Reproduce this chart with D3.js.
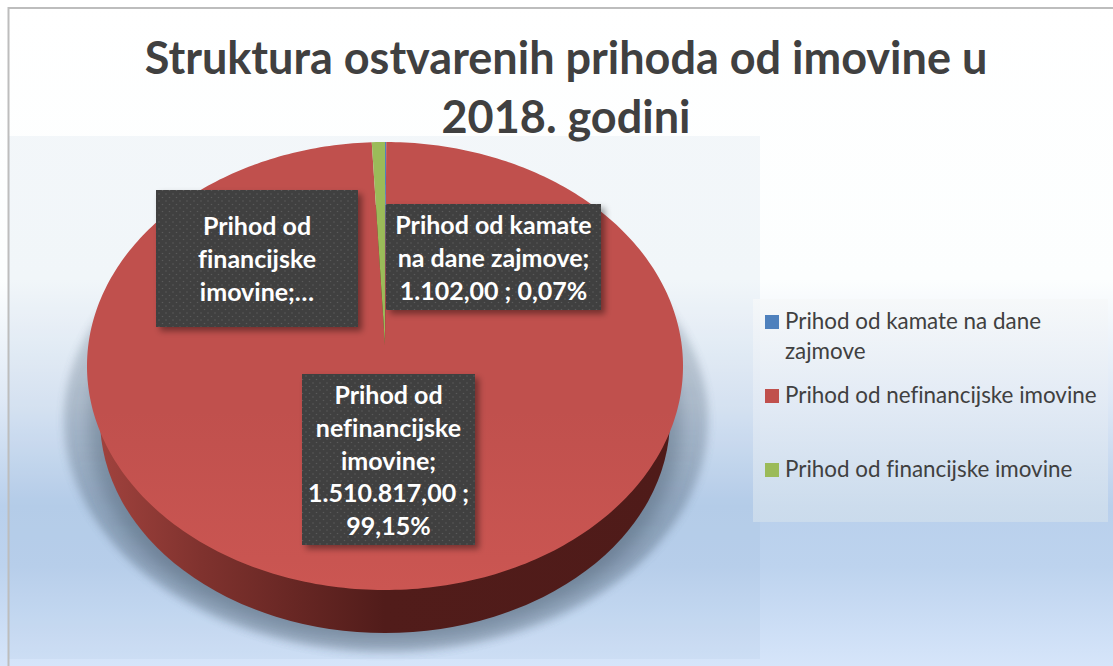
<!DOCTYPE html>
<html>
<head>
<meta charset="utf-8">
<script src="https://cdn.jsdelivr.net/npm/d3@7"></script>
<style>
html,body{margin:0;padding:0;background:#fff;overflow:hidden}
svg{display:block;font-family:Lato,"Noto Sans",sans-serif;font-variant-ligatures:none}
</style>
</head>
<body>
<svg id="chart" width="1113" height="666"></svg>
<script>
const titleLines = ['Struktura ostvarenih prihoda od imovine u', '2018. godini'];
const categories = ['Prihod od kamate na dane zajmove', 'Prihod od nefinancijske imovine', 'Prihod od financijske imovine'];
const values = [1102, 1510817, 11850]; // last one is hidden in the picture
const legendLines = [['Prihod od kamate na dane', 'zajmove'], ['Prihod od nefinancijske imovine'], ['Prihod od financijske imovine']];
const labelLines = [
  ['Prihod od kamate', 'na dane zajmove;', '1.102,00 ; 0,07%'],
  ['Prihod od', 'nefinancijske', 'imovine;', '1.510.817,00 ;', '99,15%'],
  ['Prihod od', 'financijske', 'imovine;…'],
];
const colors = ['#4f81bd', '#c0504d', '#9bbb59'];

const svg = d3.select('#chart');
const defs = svg.append('defs');
const color = d3.scaleOrdinal(categories, colors);

function linGrad(id, stops, horizontal) {
  const g = defs.append('linearGradient').attr('id', id).attr('x1', 0).attr('y1', 0)
    .attr('x2', horizontal ? 1 : 0).attr('y2', horizontal ? 0 : 1);
  stops.forEach(([o, c, a]) => g.append('stop').attr('offset', o).attr('stop-color', c).attr('stop-opacity', a ?? 1));
}
linGrad('bg', [[0, '#ffffff'], [0.42, '#fcfefe'], [0.6, '#dfe9f6'], [0.76, '#b9d0ec'], [0.85, '#bdd3ee'], [1, '#d6e5fa']]);
linGrad('legendBg', [[0, '#f6f8f9'], [0.5, '#e2eaf4'], [1, '#cfdeec']]);
linGrad('face', [[0, '#c0504d'], [0.6, '#c0504d'], [1, '#cb5652']]);
linGrad('wall', [[0, '#a0423d'], [0.18, '#7f322e'], [0.5, '#511c1a'], [1, '#4f1b19']], true);
linGrad('shadowFade', [[0, '#56697c', 0], [0.3, '#56697c', 0.34], [0.8, '#56697c', 0.55], [1, '#56697c', 0.45]]);

const blur = (id, sd) => defs.append('filter').attr('id', id).attr('x', '-10%').attr('y', '-10%').attr('width', '120%').attr('height', '120%')
  .append('feGaussianBlur').attr('stdDeviation', sd);
blur('blurWide', 4);
blur('blurNear', 8);
const ds = defs.append('filter').attr('id', 'boxShadow').attr('x', '-10%').attr('y', '-10%').attr('width', '125%').attr('height', '125%');
ds.append('feDropShadow').attr('dx', 4).attr('dy', 4).attr('stdDeviation', 3).attr('flood-color', '#000').attr('flood-opacity', 0.4);

const dots = defs.append('pattern').attr('id', 'dots').attr('width', 7).attr('height', 7).attr('patternUnits', 'userSpaceOnUse');
dots.append('rect').attr('width', 7).attr('height', 7).attr('fill', '#3f3f3f');
dots.append('circle').attr('cx', 1.5).attr('cy', 1.5).attr('r', 0.8).attr('fill', '#5a5a5a');
dots.append('circle').attr('cx', 5).attr('cy', 5).attr('r', 0.8).attr('fill', '#5a5a5a');

// chart area
svg.append('rect').attr('width', 1113).attr('height', 666).attr('fill', 'url(#bg)');
svg.append('path').attr('d', 'M8.5,666V8H1113').attr('fill', 'none').attr('stroke', '#bdbdbd').attr('stroke-width', 2);

// plot area
svg.append('rect').attr('x', 9).attr('y', 136).attr('width', 751).attr('height', 523).attr('fill', '#7fa5c8').attr('opacity', 0.085);

// disc in perspective: top 142, apex 345, bottom 590
const cx = 385, apexY = 345, topY = 142, botY = 590, halfW = 296.7;
const k = (2 * apexY - topY - botY) / (botY - topY);
const p = apexY - topY + topY * k;
const project = (angle, r) => {
  const u = r * Math.sin(angle), v = -r * Math.cos(angle);
  const w = 1 + k * v;
  return [cx + halfW * u / w, (apexY + p * v) / w];
};

// shadow under the pie
svg.append('ellipse').attr('cx', cx + 1).attr('cy', 420).attr('rx', 322).attr('ry', 232)
  .attr('fill', 'url(#shadowFade)').attr('opacity', 0.8).attr('filter', 'url(#blurWide)');
svg.append('ellipse').attr('cx', cx).attr('cy', 425).attr('rx', 296).attr('ry', 218)
  .attr('fill', 'url(#shadowFade)').attr('filter', 'url(#blurNear)');

// side wall, the lower rim is a slightly smaller ellipse further down
svg.append('ellipse').attr('cx', cx).attr('cy', 419).attr('rx', 285).attr('ry', 214)
  .attr('fill', 'url(#wall)');

// slices
const slices = d3.pie().sort(null)(values);
const line = d3.line();
svg.append('g').selectAll('path').data(slices).join('path')
  .attr('d', (s) => {
    const n = Math.max(2, Math.ceil((s.endAngle - s.startAngle) * 180 / Math.PI));
    const pts = d3.range(n + 1).map((i) => project(s.startAngle + (s.endAngle - s.startAngle) * i / n, 1));
    return line([project(0, 0), ...pts]) + 'Z';
  })
  .attr('fill', (s, i) => (i === 1 ? 'url(#face)' : color(categories[i])));

// data labels
const labelBoxes = [
  { x: 386, y: 204, w: 215, h: 106, first: 234 },
  { x: 302, y: 374, w: 173, h: 171, first: 404 },
  { x: 156, y: 190, w: 202, h: 137, first: 235 },
];
const labels = svg.append('g').selectAll('g').data(labelLines).join('g');
labels.append('rect')
  .attr('x', (d, i) => labelBoxes[i].x).attr('y', (d, i) => labelBoxes[i].y)
  .attr('width', (d, i) => labelBoxes[i].w).attr('height', (d, i) => labelBoxes[i].h)
  .attr('fill', 'url(#dots)').attr('filter', 'url(#boxShadow)');
labels.each(function (d, i) {
  const b = labelBoxes[i];
  d3.select(this).selectAll('text').data(d).join('text')
    .attr('x', b.x + b.w / 2).attr('y', (t, j) => b.first + j * 32.8)
    .attr('text-anchor', 'middle').attr('fill', '#fff')
    .attr('font-size', 25).attr('font-weight', 700).text((t) => t);
});

// legend
svg.append('rect').attr('x', 753).attr('y', 299).attr('width', 355).attr('height', 223).attr('fill', 'url(#legendBg)').attr('opacity', 0.78);
const legendY = [329, 403, 477];
const legend = svg.append('g').selectAll('g').data(categories).join('g');
legend.append('rect').attr('x', 765).attr('y', (d, i) => legendY[i] - 14).attr('width', 14).attr('height', 14).attr('fill', (d) => color(d));
legend.each(function (d, i) {
  d3.select(this).selectAll('text').data(legendLines[i]).join('text')
    .attr('x', 785).attr('y', (t, j) => legendY[i] + j * 30)
    .attr('fill', '#404040').attr('font-size', 22.4).text((t) => t);
});

// title
svg.append('g').selectAll('text').data(titleLines).join('text')
  .attr('x', 566).attr('y', (d, i) => 74 + i * 59)
  .attr('text-anchor', 'middle').attr('fill', '#404040')
  .attr('font-size', 45).attr('font-weight', 700).text((d) => d);
</script>
</body>
</html>
